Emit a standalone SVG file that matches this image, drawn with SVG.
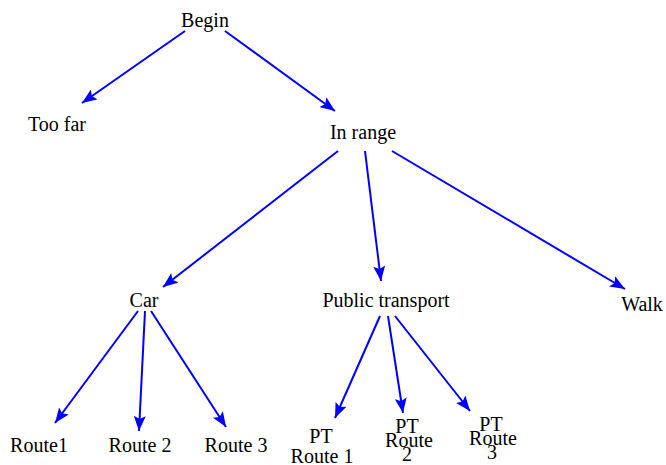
<svg xmlns="http://www.w3.org/2000/svg" width="666" height="465" viewBox="0 0 666 465">
<style>
.e{stroke:#0000ff;stroke-width:2;fill:none;marker-end:url(#ah)}
</style>
<defs>
<marker id="ah" markerUnits="userSpaceOnUse" markerWidth="16" markerHeight="12" refX="15" refY="6" orient="auto">
<path d="M0,0 L15,6 L0,12 L3,6 Z" fill="#0000ff"/>
</marker>
</defs>
<rect width="666" height="465" fill="#fff"/>
<g id="connectors">
<line class="e" x1="185" y1="31" x2="82" y2="103"/>
<line class="e" x1="225" y1="31" x2="335" y2="111"/>
<line class="e" x1="338" y1="151" x2="163" y2="287"/>
<line class="e" x1="365" y1="151" x2="381" y2="281"/>
<line class="e" x1="392" y1="151" x2="625" y2="289"/>
<line class="e" x1="138" y1="311" x2="55" y2="423"/>
<line class="e" x1="145" y1="311" x2="139" y2="431"/>
<line class="e" x1="151" y1="311" x2="226" y2="427"/>
<line class="e" x1="380" y1="316" x2="335" y2="418"/>
<line class="e" x1="388" y1="316" x2="403" y2="413"/>
<line class="e" x1="395" y1="316" x2="470" y2="411"/>
</g>
<g font-family="Liberation Serif" font-size="20" fill="#000" text-anchor="middle">
<g id="begin"><text x="205" y="27">Begin</text></g>
<g id="toofar"><text x="57" y="131">Too far</text></g>
<g id="inrange"><text x="363" y="139">In range</text></g>
<g id="car"><text x="144" y="307">Car</text></g>
<g id="pt"><text x="386" y="307">Public transport</text></g>
<g id="walk"><text x="642" y="311">Walk</text></g>
<g id="route1"><text x="39" y="452">Route1</text></g>
<g id="route2"><text x="140" y="452">Route 2</text></g>
<g id="route3"><text x="236" y="452">Route 3</text></g>
<g id="ptroute1"><text x="321" y="443">PT</text><text x="322" y="463">Route 1</text></g>
<g id="ptroute2"><text x="407" y="433">PT</text><text x="409" y="447">Route</text><text x="407" y="461">2</text></g>
<g id="ptroute3"><text x="491" y="431">PT</text><text x="493" y="445">Route</text><text x="492" y="459">3</text></g>
</g>
</svg>
